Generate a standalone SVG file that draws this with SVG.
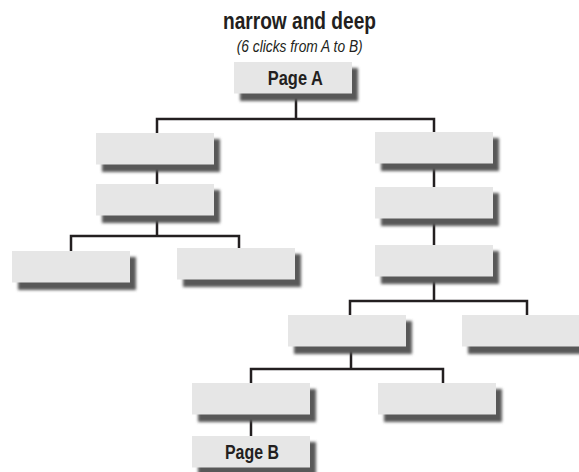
<svg xmlns="http://www.w3.org/2000/svg" width="579" height="472" viewBox="0 0 579 472">
  <style>
    .box { fill: #e6e6e6; }
    .shadow { fill: #595959; filter: url(#soft); }
    .wire { fill: none; stroke: #231f20; stroke-width: 2.5; stroke-linecap: butt; stroke-linejoin: miter; }
    .title { font-family: "Liberation Sans", Arial, sans-serif; font-weight: bold; fill: #231f20; }
    .sub { font-family: "Liberation Sans", Arial, sans-serif; font-style: italic; fill: #231f20; }
    .label { font-family: "Liberation Sans", Arial, sans-serif; font-weight: bold; fill: #231f20; }
  </style>
  <defs>
    <filter id="soft" x="-10%" y="-30%" width="120%" height="160%">
      <feGaussianBlur stdDeviation="1.8"/>
    </filter>
    <!-- page box: soft drop shadow under a flat light-gray card -->
    <g id="page">
      <rect class="shadow" x="6" y="6" width="118" height="33"/>
      <rect class="box" x="0" y="0" width="118" height="31.5"/>
    </g>
  </defs>

  <rect width="579" height="472" fill="#ffffff"/>

  <text class="title" x="299.5" y="29" font-size="24" text-anchor="middle" textLength="153" lengthAdjust="spacingAndGlyphs">narrow and deep</text>
  <text class="sub" x="299.7" y="52" font-size="16" text-anchor="middle" textLength="126" lengthAdjust="spacingAndGlyphs">(6 clicks from A to B)</text>

  <g id="connectors">
    <path class="wire" d="M296 93 V119 M157 133 V119 H434 V132"/>
    <path class="wire" d="M157 164 V184"/>
    <path class="wire" d="M157 216 V236 M71 251 V236 H239 V248"/>
    <path class="wire" d="M434 164 V187 M434 218 V245"/>
    <path class="wire" d="M434 277 V301 M350 315 V301 H527 V315"/>
    <path class="wire" d="M351 347 V369 M251 383 V369 H443 V383"/>
    <path class="wire" d="M251 415 V436"/>
  </g>

  <g id="page-a">
    <use href="#page" x="234" y="62"/>
    <text class="label" x="295.3" y="85" font-size="20" text-anchor="middle" textLength="55" lengthAdjust="spacingAndGlyphs">Page A</text>
  </g>
  <g id="left-1"><use href="#page" x="96" y="133"/></g>
  <g id="left-2"><use href="#page" x="96" y="184"/></g>
  <g id="left-left"><use href="#page" x="12" y="251"/></g>
  <g id="left-right"><use href="#page" x="177" y="248"/></g>
  <g id="right-1"><use href="#page" x="375" y="132"/></g>
  <g id="right-2"><use href="#page" x="375" y="187"/></g>
  <g id="right-3"><use href="#page" x="375" y="245"/></g>
  <g id="right-left"><use href="#page" x="288" y="315"/></g>
  <g id="right-right"><use href="#page" x="462" y="315"/></g>
  <g id="deep-left"><use href="#page" x="192" y="383"/></g>
  <g id="deep-right"><use href="#page" x="378" y="383"/></g>
  <g id="page-b">
    <use href="#page" x="192" y="436"/>
    <text class="label" x="252" y="459" font-size="20" text-anchor="middle" textLength="54" lengthAdjust="spacingAndGlyphs">Page B</text>
  </g>
</svg>
